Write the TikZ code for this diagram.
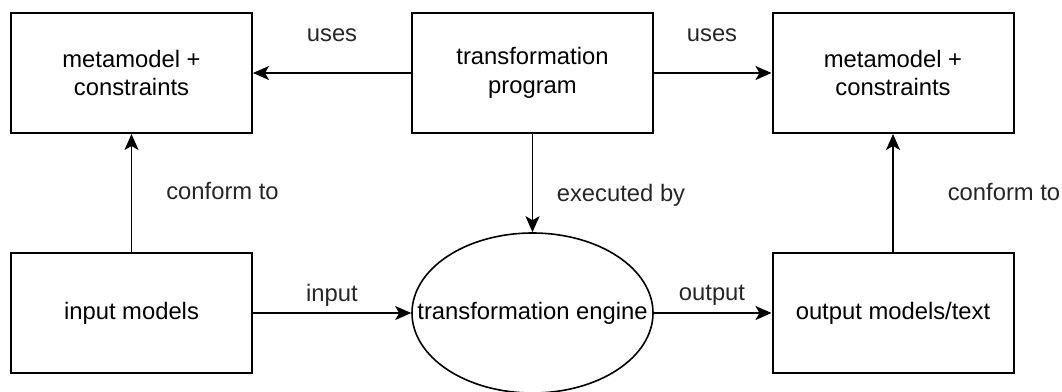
\documentclass[tikz,border=0pt]{standalone}
\usepackage{fontspec}
\setmainfont{Liberation Sans}
\usetikzlibrary{shapes.geometric,arrows.meta}
\tikzset{
  box/.style={draw, line width=2pt, minimum width=241pt, minimum height=120pt, inner sep=0pt, align=center},
  arr/.style={line width=1.8pt, -{Stealth[length=16pt,width=14pt,inset=4pt]}},
  lbl/.style={inner sep=0pt, text=black!85},
}
\begin{document}
\begin{tikzpicture}[x=1pt,y=-1pt,font=\fontsize{23.8}{28.5}\selectfont]
\useasboundingbox (0,0) rectangle (1062,391);
\node[box] (tl) at (131.5,73) {metamodel +\\constraints};
\node[box] (tm) at (532.5,73) {transformation\\program};
\node[box] (tr) at (893,73) {metamodel +\\constraints};
\node[box] (il) at (131.5,313) {input models};
\node[draw, ellipse, line width=1.6pt, minimum width=241pt, minimum height=160pt, inner sep=0pt] (eng) at (532.5,313) {};
\node[inner sep=0pt] (engt) at (eng.center) {transformation engine};
\node[box] (or) at (893,313) {output models/text};
\draw[arr] (tm.west) -- (tl.east);
\draw[arr] (tm.east) -- (tr.west);
\draw[arr] (tm.south) -- (eng.north);
\draw[arr] (il.north) -- (tl.south);
\draw[arr] (or.north) -- (tr.south);
\draw[arr] (il.east) -- (eng.west);
\draw[arr] (eng.east) -- (or.west);
\node[lbl] (l1) at (332,35) {uses};
\node[lbl] (l2) at (712,35) {uses};
\node[lbl] (l3) at (222.5,191) {conform to};
\node[lbl] (l4) at (1004,192) {conform to};
\node[lbl] (l5) at (621,195) {executed by};
\node[lbl] (l6) at (332,295) {input};
\node[lbl] (l7) at (712,295) {output};
\end{tikzpicture}
\end{document}
